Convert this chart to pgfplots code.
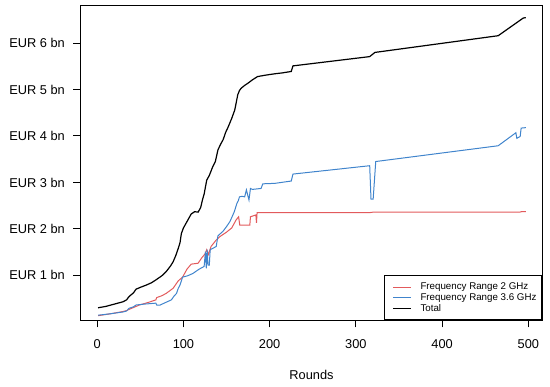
\documentclass[border=0pt]{standalone}
\usepackage{pgfplots}
\pgfplotsset{compat=1.18}
\usepackage{fontspec}
\setmainfont{Liberation Sans}
\definecolor{myred}{RGB}{226,90,92}
\definecolor{myblue}{RGB}{64,132,204}
\begin{document}
\begin{tikzpicture}
\path[use as bounding box] (-81bp,-67bp) rectangle (469bp,320bp);
\begin{axis}[
  at={(0,0)}, anchor=south west,
  scale only axis, width=461bp, height=314bp,
  xmin=-18.8, xmax=515.8, ymin=0.037, ymax=6.80,
  axis line style={line width=1bp},
  tick align=outside, major tick length=7.5bp,
  tick style={black, line width=1bp},
  xtick pos=left, ytick pos=left,
  xtick={0,100,...,500}, ytick={1,...,6},
  yticklabel={EUR \pgfmathprintnumber{\tick} bn},
  /pgf/number format/assume math mode=true,
  ticklabel style={font=\fontsize{12.8bp}{15bp}\selectfont, inner sep=0pt},
  xticklabel style={yshift=-11.9bp},
  yticklabel style={xshift=-8.5bp},
  xlabel={Rounds},
  xlabel style={font=\fontsize{12.8bp}{15bp}\selectfont, at={(axis description cs:0.5,0)}, anchor=center, yshift=-55bp},
  legend cell align=left,
  legend image code/.code={\path (0bp,0bp); \draw[#1] (4bp,0bp) -- (22bp,0bp);},
  legend style={at={(1,0)}, anchor=south east, draw=black, line width=1bp,
    font=\fontsize{9.75bp}{11bp}\selectfont, inner xsep=4bp, inner ysep=6bp,
    nodes={inner sep=1bp}, column sep=7.5bp, row sep=0.2bp},
]
\addplot[myred, line width=1bp] coordinates {
(1,0.13) (15,0.17) (30,0.22) (34,0.24) (40,0.29) (49,0.36) (60,0.42) (68,0.47) (69,0.52) (75,0.56) (80,0.61) (88,0.72) (94,0.88) (99,0.96) (104,1.13) (109,1.24) (113,1.25) (117,1.26) (121,1.37) (125,1.46) (127,1.55) (129,1.45) (132,1.62) (138,1.76) (142,1.83) (150,1.93) (156,2.02) (161,2.19) (164,2.26) (165.3,2.08) (177,2.08) (177.7,2.26) (184,2.30) (184.7,2.13) (185.4,2.35) (206,2.35) (316,2.35) (320,2.36) (490,2.36) (492,2.37) (497,2.37)
};
\addlegendentry{Frequency Range 2 GHz}
\addplot[myblue, line width=1bp] coordinates {
(1,0.14) (15,0.17) (30,0.21) (34,0.23) (37,0.29) (42,0.32) (45,0.36) (55,0.38) (68,0.40) (69,0.36) (73,0.36) (80,0.42) (86,0.47) (89,0.55) (92,0.61) (94,0.72) (96,0.79) (99,0.96) (105,0.99) (111,1.04) (118,1.13) (124,1.19) (125.5,1.51) (126.5,1.15) (127.5,1.55) (128.5,1.22) (130,1.22) (131,1.55) (134,1.58) (138,1.62) (140,1.85) (146,1.95) (150,2.05) (154,2.16) (159,2.37) (162,2.55) (163.5,2.60) (165,2.69) (168,2.70) (171,2.69) (173,2.84) (176,2.62) (177.7,2.87) (180,2.85) (190,2.87) (192,2.97) (206,2.98) (225,3.03) (227,3.18) (316,3.36) (317.5,2.64) (320,2.64) (323,3.45) (465,3.79) (485.5,4.07) (486.6,3.95) (490.5,3.99) (491.6,4.17) (497,4.18)
};
\addlegendentry{Frequency Range 3.6 GHz}
\addplot[black, line width=1.2bp] coordinates {
(1,0.30) (10,0.33) (20,0.38) (30,0.43) (34,0.47) (36,0.52) (38,0.56) (42,0.62) (45,0.70) (50,0.74) (57,0.79) (63,0.84) (68,0.90) (75,0.99) (80,1.08) (85,1.20) (88,1.29) (91,1.42) (94,1.58) (96,1.70) (97.6,1.90) (100,2.02) (103,2.12) (106,2.22) (109,2.32) (113,2.37) (117,2.36) (120,2.46) (122,2.62) (124,2.75) (127,3.05) (130,3.15) (134,3.34) (137,3.45) (140,3.70) (143,3.82) (146,3.92) (149,4.08) (152,4.20) (156,4.38) (159.5,4.56) (161,4.70) (163,4.89) (165,4.98) (167,5.03) (171,5.09) (175,5.14) (180,5.21) (186,5.28) (195,5.31) (206,5.34) (215,5.36) (225,5.39) (226,5.45) (227,5.51) (316,5.71) (322,5.80) (465,6.16) (494,6.54) (497,6.55)
};
\addlegendentry{Total}
\end{axis}
\end{tikzpicture}
\end{document}
